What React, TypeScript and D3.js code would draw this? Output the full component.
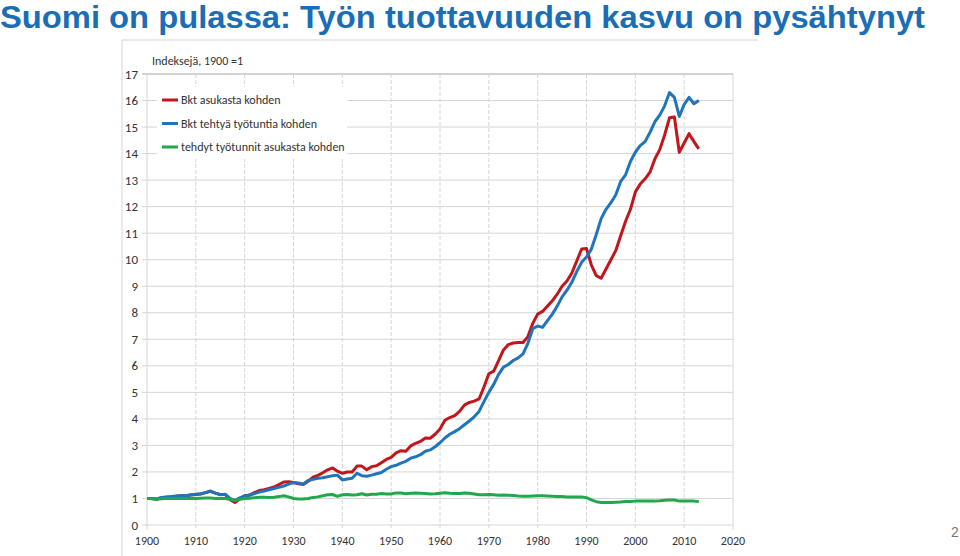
import * as d3 from "d3";

const years = d3.range(1900, 2014);

// Bkt asukasta kohden (GDP per capita), index 1900 = 1
const gdpPerCapita = [
  1.0, 1.0, 0.97, 1.03, 1.05, 1.06, 1.08, 1.1, 1.1, 1.13,
  1.15, 1.17, 1.22, 1.27, 1.2, 1.15, 1.15, 0.95, 0.85, 0.98,
  1.1, 1.13, 1.22, 1.3, 1.33, 1.38, 1.43, 1.52, 1.62, 1.63,
  1.6, 1.55, 1.53, 1.65, 1.8, 1.87, 1.97, 2.08, 2.15, 2.03,
  1.95, 2.0, 2.0, 2.22, 2.22, 2.08, 2.2, 2.23, 2.35, 2.47,
  2.55, 2.72, 2.8, 2.78, 2.98, 3.08, 3.15, 3.28, 3.27, 3.42,
  3.62, 3.95, 4.05, 4.12, 4.28, 4.52, 4.62, 4.67, 4.75, 5.2,
  5.7, 5.8, 6.2, 6.6, 6.8, 6.86, 6.88, 6.88, 7.1, 7.6,
  7.95, 8.05, 8.25, 8.45, 8.7, 9.0, 9.2, 9.5, 9.95, 10.4,
  10.42, 9.8, 9.4, 9.3, 9.65, 10.0, 10.35, 10.9, 11.45, 11.9,
  12.55, 12.85, 13.05, 13.3, 13.8, 14.15, 14.7, 15.35, 15.38, 14.05,
  14.4, 14.75, 14.45, 14.18,
];

// Bkt tehtyä työtuntia kohden (GDP per hour worked)
const gdpPerHour = [
  1.0, 1.0, 0.98, 1.04, 1.06, 1.07, 1.09, 1.1, 1.1, 1.14,
  1.16, 1.18, 1.22, 1.28, 1.2, 1.14, 1.16, 1.0, 0.92, 1.02,
  1.1, 1.12, 1.18, 1.24, 1.28, 1.33, 1.37, 1.42, 1.47, 1.54,
  1.6, 1.58, 1.55, 1.68, 1.72, 1.76, 1.78, 1.82, 1.86, 1.88,
  1.7, 1.73, 1.76, 1.95, 1.86, 1.84, 1.88, 1.93, 1.98, 2.1,
  2.2, 2.25, 2.33, 2.4, 2.52, 2.57, 2.65, 2.78, 2.83, 2.95,
  3.1, 3.28, 3.42, 3.52, 3.63, 3.78, 3.92, 4.08, 4.28, 4.65,
  5.0, 5.3, 5.68, 5.95, 6.05, 6.2, 6.3, 6.45, 6.85, 7.4,
  7.5, 7.45, 7.7, 7.95, 8.25, 8.6, 8.85, 9.15, 9.55, 9.9,
  10.1, 10.4, 10.95, 11.55, 11.9, 12.15, 12.45, 12.95, 13.2, 13.7,
  14.05, 14.3, 14.45, 14.8, 15.2, 15.45, 15.8, 16.3, 16.12, 15.4,
  15.85, 16.12, 15.88, 16.0,
];

// tehdyt työtunnit asukasta kohden (hours worked per capita)
const hoursPerCapita = [
  1.0, 0.99, 0.97, 0.99, 1.0, 1.0, 1.01, 1.0, 1.0, 1.01,
  1.0, 1.01, 1.02, 1.02, 1.0, 1.0, 1.0, 0.97, 0.93, 0.97,
  1.0, 1.01, 1.03, 1.05, 1.05, 1.04, 1.05, 1.07, 1.1, 1.06,
  1.0, 0.98, 0.98, 1.0, 1.04, 1.06, 1.1, 1.14, 1.15, 1.08,
  1.14, 1.15, 1.13, 1.14, 1.18, 1.13, 1.16, 1.16, 1.19, 1.17,
  1.17, 1.21, 1.21, 1.18, 1.2, 1.21, 1.2, 1.19, 1.17, 1.18,
  1.2, 1.22, 1.2, 1.19, 1.19, 1.21, 1.2, 1.17, 1.14, 1.14,
  1.15, 1.14, 1.12, 1.13, 1.12, 1.11, 1.09, 1.08, 1.08, 1.09,
  1.1, 1.1, 1.09, 1.08, 1.07, 1.07, 1.06, 1.06, 1.06, 1.06,
  1.03, 0.95, 0.88, 0.85, 0.85, 0.85, 0.86, 0.87, 0.89, 0.89,
  0.9, 0.9, 0.9, 0.9, 0.9, 0.91, 0.93, 0.94, 0.94, 0.9,
  0.9, 0.9, 0.9, 0.89,
];

const seriesNames = [
  "Bkt asukasta kohden",
  "Bkt tehtyä työtuntia kohden",
  "tehdyt työtunnit asukasta kohden",
];
const seriesColors = ["#c0161c", "#1f74bb", "#21a84d"];
const seriesValues = [gdpPerCapita, gdpPerHour, hoursPerCapita];

const xTicks = d3.range(1900, 2021, 10);
const yTicks = d3.range(0, 18, 1);

const title = "Suomi on pulassa: Työn tuottavuuden kasvu on pysähtynyt";

export default function App() {
  const width = 960;
  const height = 556;
  const margin = { top: 74, right: 227, bottom: 31, left: 147 };
  const innerWidth = width - margin.left - margin.right;
  const innerHeight = height - margin.top - margin.bottom;

  const xScale = d3.scaleLinear().domain([1900, 2020]).range([0, innerWidth]);
  const yScale = d3.scaleLinear().domain([0, 17]).range([innerHeight, 0]);

  const line = d3
    .line<number>()
    .x((_, i) => xScale(years[i]))
    .y((d) => yScale(d));

  const font = "Carlito, 'Open Sans', 'Liberation Sans', sans-serif";

  return (
    <svg
      width={width}
      height={height}
      style={{ position: "absolute", left: 0, top: 0, background: "#fff" }}
    >
      <text
        x={0}
        y={28}
        fill="#1b6db5"
        fontFamily="'Liberation Sans', Arial, sans-serif"
        fontWeight="bold"
        fontSize={31}
        textLength={925}
        lengthAdjust="spacingAndGlyphs"
      >
        {title}
      </text>

      {/* chart frame */}
      <line x1={122} x2={758} y1={40} y2={40} stroke="#d4d4d4" />
      <line x1={122} x2={122} y1={40} y2={556} stroke="#d4d4d4" />

      <text x={152} y={65} fontFamily={font} fontSize={12} fill="#333">
        Indeksejä, 1900 =1
      </text>

      <g transform={`translate(${margin.left}, ${margin.top})`}>
        {yTicks.map((t) => (
          <g key={`y${t}`}>
            <line
              x1={-5}
              x2={innerWidth}
              y1={yScale(t)}
              y2={yScale(t)}
              stroke={t === 17 ? "#a6a6a6" : "#d6d6d6"}
            />
            <text
              x={-9}
              y={yScale(t)}
              dy="0.35em"
              textAnchor="end"
              fontFamily={font}
              fontSize={13}
              fill="#333"
            >
              {t}
            </text>
          </g>
        ))}
        {xTicks.map((t) => (
          <g key={`x${t}`}>
            <line
              x1={xScale(t)}
              x2={xScale(t)}
              y1={0}
              y2={innerHeight + 5}
              stroke="#d6d6d6"
              strokeDasharray={t === 1900 || t === 2020 ? undefined : "4,2"}
            />
            <text
              x={xScale(t)}
              y={innerHeight + 20}
              textAnchor="middle"
              fontFamily={font}
              fontSize={12}
              fill="#333"
            >
              {t}
            </text>
          </g>
        ))}

        {/* legend background */}
        <rect x={10} y={13} width={190} height={72} fill="#fff" />
        {seriesNames.map((name, i) => (
          <g key={name} transform={`translate(15, ${26 + i * 23.5})`}>
            <line x1={0} x2={16} y1={0} y2={0} stroke={seriesColors[i]} strokeWidth={3} />
            <text x={19} y={0} dy="0.35em" fontFamily={font} fontSize={12} fill="#333">
              {name}
            </text>
          </g>
        ))}

        {seriesValues.map((vals, i) => (
          <path
            key={seriesNames[i]}
            d={line(vals) ?? ""}
            fill="none"
            stroke={seriesColors[i]}
            strokeWidth={3}
            strokeLinejoin="round"
          />
        ))}
      </g>

      <text x={955} y={537} textAnchor="middle" fontFamily="'Liberation Sans', sans-serif" fontSize={14} fill="#777">
        2
      </text>
    </svg>
  );
}
